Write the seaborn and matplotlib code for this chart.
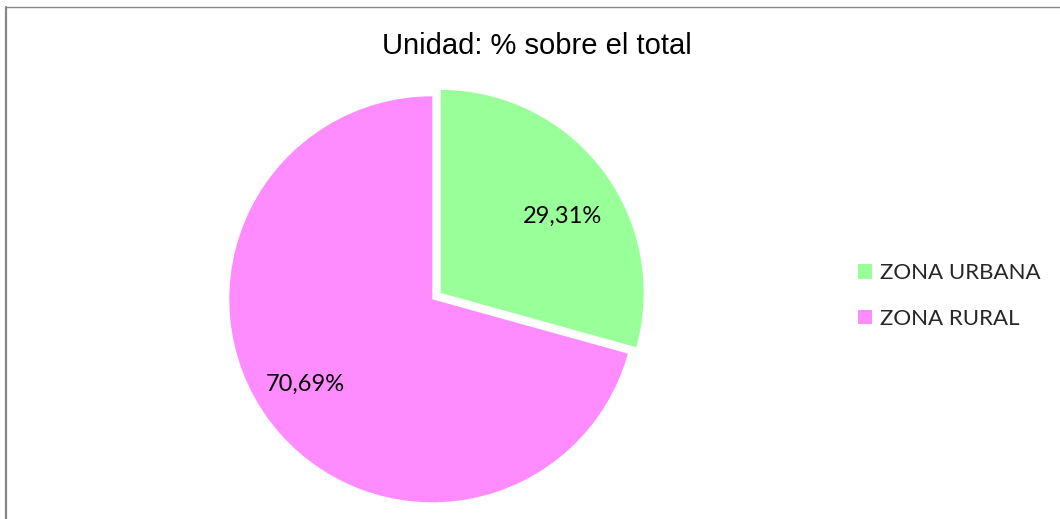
import matplotlib
matplotlib.use("Agg")
import matplotlib.pyplot as plt
import seaborn as sns
import numpy as np
from matplotlib.lines import Line2D
from matplotlib.patches import Patch

sns.set_theme(style="white")

categories = ["ZONA URBANA", "ZONA RURAL"]
values = [29.31, 70.69]
labels_txt = ["29,31%", "70,69%"]
colors = ["#99FF99", "#FF8CFF"]
title = "Unidad: % sobre el total"

W, H = 1060, 519
fig = plt.figure(figsize=(W / 100, H / 100), dpi=100)
fig.patch.set_facecolor("white")

# pie axes: centre (432, 300) px, radius 203 px
cx, cy, r = 432.3, 299.3, 203.0
half = 1.1 * r
ax = fig.add_axes([(cx - half) / W, (H - cy - half) / H, 2 * half / W, 2 * half / H])
ax.axis("off")

wedges, _ = ax.pie(values, colors=colors, startangle=90, counterclock=False,
                   explode=[0.052, 0], radius=1.0, labels=None,
                   wedgeprops=dict(linewidth=0), frame=False)
ax.set_xlim(-1.1, 1.1)
ax.set_ylim(-1.1, 1.1)

for w, txt, dist, tweak in zip(wedges, labels_txt, [0.71, 0.756], [-5.0, -3.4]):
    ang = np.deg2rad((w.theta1 + w.theta2) / 2 + tweak)
    c = w.center
    ax.text(c[0] + dist * np.cos(ang), c[1] + dist * np.sin(ang), txt,
            ha="center", va="center", fontsize=17, family="Lato", color="black")

fig.text(537 / W, 1 - 46 / H, title, ha="center", va="center", fontsize=21,
         family="Liberation Sans", color="black")

handles = [Patch(facecolor=c, edgecolor="none", label=l) for c, l in zip(colors, categories)]
leg = fig.legend(handles=handles, loc="center left", bbox_to_anchor=(847 / W, 1 - 296 / H),
                 frameon=False, prop=dict(family="Lato", size=16),
                 handlelength=0.63, handleheight=0.63, handletextpad=0.36,
                 labelspacing=1.16, borderpad=0)

# chart border (partially visible)
fig.add_artist(Line2D([6 / W, 6 / W], [0, 1 - 7 / H], color="#888888", lw=1.6, transform=fig.transFigure))
fig.add_artist(Line2D([5 / W, 1], [1 - 7 / H, 1 - 7 / H], color="#888888", lw=1.0, transform=fig.transFigure))

fig.savefig("out.png", dpi=100, facecolor="white")
